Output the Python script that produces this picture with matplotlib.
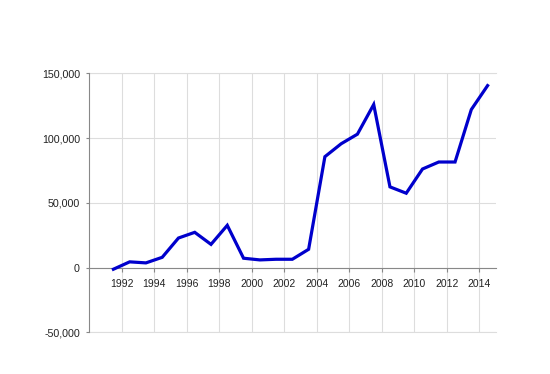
import matplotlib
matplotlib.use("Agg")
import matplotlib.pyplot as plt
from matplotlib.ticker import FuncFormatter

years = [1991, 1992, 1993, 1994, 1995, 1996, 1997, 1998, 1999, 2000, 2001, 2002,
         2003, 2004, 2005, 2006, 2007, 2008, 2009, 2010, 2011, 2012, 2013, 2014]
values = [-1300, 4400, 3600, 7900, 22800, 27200, 17900, 32600, 7200, 5900, 6400, 6400,
          14100, 85600, 95600, 103000, 125900, 62300, 57400, 76100, 81500, 81500, 122000, 140500]
x_ticks = list(range(1992, 2015, 2))
y_ticks = [-50000, 0, 50000, 100000, 150000]

plt.rcParams['font.family'] = ['Liberation Sans', 'DejaVu Sans']

fig = plt.figure(figsize=(5.5, 3.74), dpi=100)
ax = fig.add_axes([0.1618, 0.1115, 0.9013 - 0.1618, 0.804 - 0.1115])

xs = [y + 0.5 for y in years]
ax.plot(xs, values, color='#0000CC', lw=2.3, solid_joinstyle='miter', zorder=3, clip_on=False)

ax.set_xlim(1990, 2015)
ax.set_ylim(-50000, 150000)
ax.set_xticks(x_ticks)
ax.set_xticklabels([str(t) for t in x_ticks])
ax.set_yticks(y_ticks)
ax.yaxis.set_major_formatter(FuncFormatter(lambda v, p: f"{int(v):,}"))

ax.grid(True, color='#dddddd', lw=0.8, zorder=0)
ax.set_axisbelow(True)
for yv in (y_ticks[0], y_ticks[-1]):
    ax.axhline(yv, color='#dddddd', lw=0.8, zorder=0.5, clip_on=False)

for s in ['top', 'right']:
    ax.spines[s].set_visible(False)
ax.spines['bottom'].set_position(('data', 0))
ax.spines['bottom'].set_color('#888888')
ax.spines['left'].set_color('#888888')
ax.spines['bottom'].set_zorder(2)

ax.tick_params(axis='x', length=3, width=0.8, color='#888888', pad=5, labelsize=7.5, labelcolor='#222222')
ax.tick_params(axis='y', length=2.5, width=0.8, color='#888888', pad=4, labelsize=7.7, labelcolor='#222222')

fig.savefig('out.png', dpi=100)
